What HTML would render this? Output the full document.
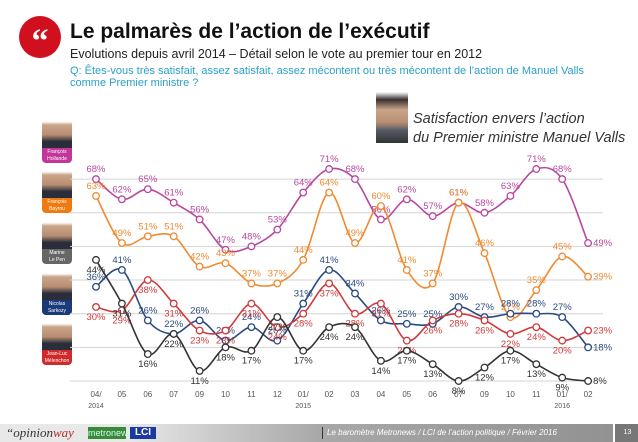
<!DOCTYPE html>
<html><head><meta charset="utf-8">
<style>
body{margin:0;width:638px;height:442px;overflow:hidden;background:#fff;font-family:"Liberation Sans",sans-serif;position:relative}
.abs{position:absolute}
.badge{position:absolute;left:42px;width:30px;border-radius:4px;overflow:hidden}
.badge .ph{height:33px;background:linear-gradient(#fff 0,#fff 20%,#c9a58a 30%,#b88d72 60%,#2a2e3a 80%)}
.badge .lb{height:15px;color:#fff;font-size:5px;text-align:center;line-height:7px;padding-top:1px;box-sizing:border-box}
</style></head><body>
<div class="abs" style="left:19px;top:16px;width:42px;height:42px;border-radius:50%;background:#d0101e;color:#fff;font:bold 34px 'Liberation Serif',serif;text-align:center;line-height:52px">“</div>
<div class="abs" style="left:70px;top:20px;font-weight:bold;font-size:21px;color:#111">Le palmarès de l’action de l’exécutif</div>
<div class="abs" style="left:70px;top:47px;font-size:12.5px;color:#222">Evolutions depuis avril 2014 – Détail selon le vote au premier tour en 2012</div>
<div class="abs" style="left:70px;top:65px;font-size:11px;line-height:12px;color:#2aa0c8;width:560px">Q: Êtes-vous très satisfait, assez satisfait, assez mécontent ou très mécontent de l’action de Manuel Valls<br>comme Premier ministre ?</div>
<div class="abs" style="left:376px;top:92px;width:32px;height:51px;background:linear-gradient(#fff 0,#3a3030 15%,#c9a58a 35%,#b88d72 60%,#555a66 75%,#333 100%)"></div>
<div class="abs" style="left:413px;top:110px;font-style:italic;font-size:14.5px;line-height:19px;color:#333">Satisfaction envers l’action<br>du Premier ministre Manuel Valls</div>

<div class="badge" style="top:115px"><div class="ph"></div><div class="lb" style="background:#c2369a">François<br>Hollande</div></div>
<div class="badge" style="top:165px"><div class="ph"></div><div class="lb" style="background:#f07a10">François<br>Bayrou</div></div>
<div class="badge" style="top:216px"><div class="ph"></div><div class="lb" style="background:#666">Marine<br>Le Pen</div></div>
<div class="badge" style="top:267px"><div class="ph"></div><div class="lb" style="background:#1a3a7a">Nicolas<br>Sarkozy</div></div>
<div class="badge" style="top:317px"><div class="ph"></div><div class="lb" style="background:#d02a2a">Jean-Luc<br>Mélenchon</div></div>

<svg class="abs" style="left:0;top:0" width="638" height="442" id="chart"></svg>

<div class="abs" style="left:0;top:424px;width:638px;height:18px;background:linear-gradient(90deg,#e8e8e8 0,#e8e8e8 20%,#a8a8a8 50%,#909090 100%)"></div>
<div class="abs" style="left:6px;top:425px;font:italic 13px 'Liberation Serif',serif;color:#333">“opinion<span style="color:#b03030">way</span></div>
<div class="abs" style="left:88px;top:427px;width:38px;height:12px;background:#3a8a3a;color:#cfe;font-size:9px;line-height:12px;text-align:center">metronews</div>
<div class="abs" style="left:130px;top:427px;width:26px;height:12px;background:#1a3aa0;color:#fff;font-weight:bold;font-size:10px;line-height:12px;text-align:center">LCI</div>
<div class="abs" style="left:322px;top:427px;border-left:1px solid #333;padding-left:4px;font-style:italic;font-size:8px;color:#fff;line-height:12px">Le baromètre Metronews / LCI de l’action politique / Février 2016</div>
<div class="abs" style="left:613px;top:424px;width:25px;height:18px;background:#777;color:#fff;font-size:7px;line-height:18px;text-align:center;border-left:2px solid #fff">13</div>

<script>
const months=["04/","05","06","07","09","10","11","12","01/","02","03","04","05","06","07","09","10","11","01/","02"];
const years=["2014","","","","","","","","2015","","","","","","","","","","2016",""];
const hollande=[68,62,65,61,56,47,48,53,64,71,68,56,62,57,61,58,63,71,68,49];
const bayrou=[63,49,51,51,42,43,37,37,44,64,49,60,41,37,61,46,27,35,45,39];
const lepen=[44,31,16,22,11,18,17,27,17,24,24,14,17,13,8,12,17,13,9,8];
const sarkozy=[36,41,26,22,26,20,24,20,31,41,34,26,25,25,30,27,28,28,27,18];
const melenchon=[30,29,38,31,23,23,31,24,28,37,28,31,20,26,28,26,22,24,20,23];
const gridVals=[8,18,28,38,48,58,68];
const svg=document.getElementById('chart');const NS="http://www.w3.org/2000/svg";
const X=i=>96+i*25.9;const Y=v=>381-(v-8)*3.365;
function mk(t,a,p){const e=document.createElementNS(NS,t);for(const k in a)e.setAttribute(k,a[k]);(p||svg).appendChild(e);return e;}
gridVals.forEach(g=>{const l=mk('line',{x1:70,x2:603,y1:Y(g),y2:Y(g),stroke:'#d4d4d4','stroke-width':1});

});
months.forEach((m,i)=>{const t=mk('text',{x:X(i),y:397,'font-size':8,fill:'#555','text-anchor':'middle'});t.textContent=m;


if(years[i]){const y=mk('text',{x:X(i),y:408,'font-size':7,fill:'#555','text-anchor':'middle'});y.textContent=years[i];

}});
function path(vals){let d=`M${X(0)},${Y(vals[0])}`;for(let i=0;i<vals.length-1;i++){const p0=i?i-1:i,p3=i+2<vals.length?i+2:i+1;
const c1x=X(i)+(X(i+1)-X(p0))/6,c1y=Y(vals[i])+(Y(vals[i+1])-Y(vals[p0]))/6;
const c2x=X(i+1)-(X(p3)-X(i))/6,c2y=Y(vals[i+1])-(Y(vals[p3])-Y(vals[i]))/6;
d+=` C${c1x},${c1y} ${c2x},${c2y} ${X(i+1)},${Y(vals[i+1])}`;}return d;}
const series=[[hollande,'#b8479e','hollande',-7],[bayrou,'#f08a30','bayrou',-7],[sarkozy,'#2a4a80','sarkozy',-7],[melenchon,'#d03a3a','melenchon',13],[lepen,'#333','lepen',13]];
series.forEach(([vals,c,n,off])=>{const g=mk('g',{});


mk('path',{d:path(vals),fill:'none',stroke:c,'stroke-width':1.6},g);
vals.forEach((v,i)=>{const p=mk('circle',{cx:X(i),cy:Y(v),r:3.3,fill:'#fff',stroke:c,'stroke-width':1.3},g);


const last=i===vals.length-1;
const t=mk('text',{x:last?X(i)+5:X(i),y:last?Y(v)+3:Y(v)+off,'font-size':9.5,fill:c,'text-anchor':last?'start':'middle'},g);t.textContent=v+'%';

});});
</script>
</body></html>
